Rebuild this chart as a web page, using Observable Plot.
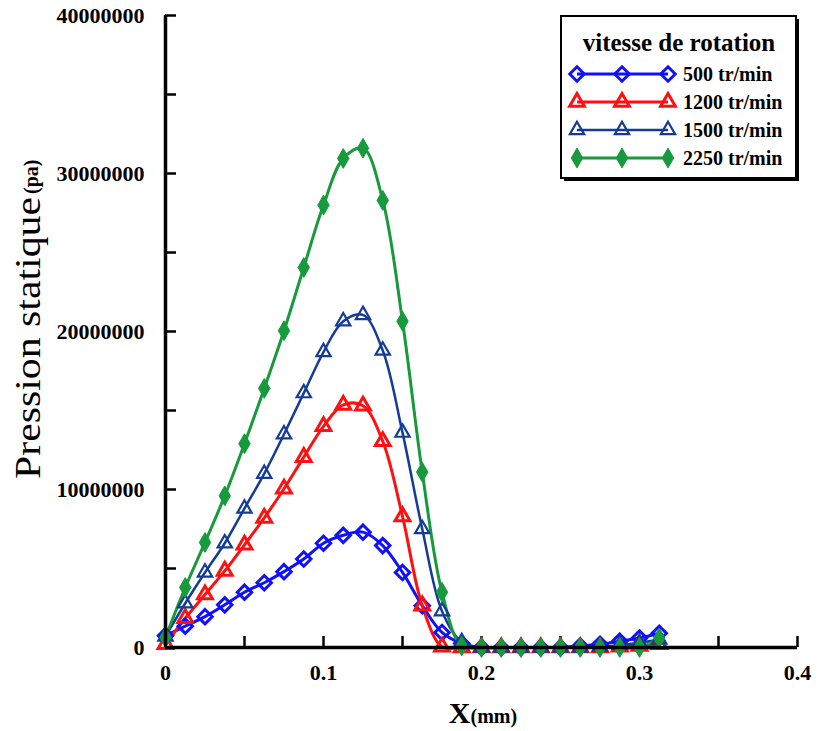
<!DOCTYPE html>
<html>
<head>
<meta charset="utf-8">
<script src="https://cdn.jsdelivr.net/npm/d3@7"></script>
<script src="https://cdn.jsdelivr.net/npm/@observablehq/plot@0.6"></script>
<style>
  body { margin: 0; background: #fff; }
  #chart { position: relative; width: 818px; height: 731px; }
</style>
</head>
<body>
<div id="chart"></div>
<script>
// X positions (mm)
const xs = [0, 0.0125, 0.025, 0.0375, 0.05, 0.0625, 0.075, 0.0875, 0.1, 0.1125, 0.125, 0.1375, 0.15,
            0.1625, 0.175, 0.1875, 0.2, 0.2125, 0.225, 0.2375, 0.25, 0.2625, 0.275, 0.2875, 0.3, 0.3125];

// Static pressure (Pa) for each rotation speed
const p500  = [750000, 1350000, 1950000, 2700000, 3500000, 4100000, 4800000, 5600000, 6600000, 7100000, 7300000, 6450000, 4750000,
               2650000, 950000, 250000, 0, 0, 0, 0, 0, 100000, 200000, 400000, 600000, 900000];
const p1200 = [200000, 1850000, 3350000, 4850000, 6500000, 8200000, 10050000, 12050000, 14000000, 15350000, 15300000, 13050000, 8300000,
               2650000, 50000, 0, 0, 0, 0, 0, 0, 0, 0, 50000, 100000, 200000];
const p1500 = [700000, 2800000, 4750000, 6600000, 8800000, 11000000, 13500000, 16100000, 18700000, 20650000, 21050000, 18800000, 13600000,
               7500000, 2300000, 350000, 0, 0, 0, 0, 0, 0, 50000, 150000, 300000, 500000];
const p2250 = [650000, 3800000, 6650000, 9600000, 12900000, 16400000, 20050000, 24050000, 28000000, 30950000, 31600000, 28300000, 20650000,
               11100000, 3500000, 100000, 0, 0, 0, 0, 0, 0, 0, 0, 0, 600000];

const seriesNames = ["500 tr/min", "1200 tr/min", "1500 tr/min", "2250 tr/min"];
const seriesValues = [p500, p1200, p1500, p2250];

const yMajor = [0, 10000000, 20000000, 30000000, 40000000];
const yTicks = [0, 5000000, 10000000, 15000000, 20000000, 25000000, 30000000, 35000000, 40000000];
const xMajor = [0, 0.1, 0.2, 0.3, 0.4];
const xTicks = [0, 0.05, 0.1, 0.15, 0.2, 0.25, 0.3, 0.35, 0.4];

const legendTitle = "vitesse de rotation";
const xLabel = ["X", "(mm)"];
const yLabel = ["Pression statique", "(pa)"];

// styles
const styles = [
  {color: "#1010ff", symbol: "diamond2", r: 6.5, fill: "none", sw: 3, lw: 3},
  {color: "#ff1010", symbol: "triangle", r: 5.5, fill: "none", sw: 3, lw: 3},
  {color: "#143c96", symbol: "triangle", r: 5.3, fill: "none", sw: 2.2, lw: 2.5},
  {color: "#179a3c", symbol: "diamond", r: 6, fill: "#179a3c", sw: 1, lw: 3}
];

const tables = seriesValues.map((vals, k) => xs.map((x, i) => ({x, y: vals[i], s: seriesNames[k]})));

const marks = [];
tables.forEach((t, k) => {
  const st = styles[k];
  marks.push(Plot.line(t, {x: "x", y: "y", stroke: st.color, strokeWidth: st.lw, curve: "catmull-rom"}));
});
tables.forEach((t, k) => {
  const st = styles[k];
  marks.push(Plot.dot(t, {x: "x", y: "y", symbol: st.symbol, r: st.r, stroke: st.color, fill: st.fill, strokeWidth: st.sw}));
});

const font = "'Liberation Serif', 'Times New Roman', serif";

const plot = Plot.plot({
  width: 818,
  height: 731,
  marginLeft: 165,
  marginRight: 21,
  marginTop: 15,
  marginBottom: 84,
  style: {fontFamily: font, fontSize: "22px", fontWeight: "bold", color: "#000", background: "#fff"},
  x: {domain: [0, 0.4], axis: null},
  y: {domain: [0, 40000000], axis: null},
  marks: [
    Plot.axisY({ticks: yTicks, tickSize: -11, strokeWidth: 2.5, tickFormat: () => "", label: null}),
    Plot.axisY({ticks: yMajor, tickSize: 0, tickPadding: 21, tickFormat: d => d3.format("d")(d), label: null}),
    Plot.axisX({ticks: xTicks, tickSize: -11, strokeWidth: 2.5, tickFormat: () => "", label: null}),
    Plot.axisX({ticks: xMajor, tickSize: 0, tickPadding: 17, tickFormat: d => d === 0 ? "0" : String(d), label: null}),
    ...marks,
    Plot.ruleX([0], {strokeWidth: 3.5}),
    Plot.ruleY([0], {strokeWidth: 3.5})
  ]
});

document.getElementById("chart").appendChild(plot);

const svg = d3.select(plot);

// X axis label
const xt = svg.append("text")
  .attr("x", 483).attr("y", 723)
  .attr("text-anchor", "middle")
  .attr("font-family", font).attr("font-weight", "bold").attr("fill", "#000");
xt.append("tspan").attr("font-size", 30).text(xLabel[0]);
xt.append("tspan").attr("font-size", 20).text(xLabel[1]);

// Y axis label
const yg = svg.append("g").attr("transform", "translate(40,0) rotate(-90)");
yg.append("text")
  .attr("x", -479).attr("y", 0)
  .attr("text-anchor", "start")
  .attr("font-family", font).attr("font-size", 36).attr("font-weight", "normal").attr("fill", "#000")
  .attr("textLength", 282).attr("lengthAdjust", "spacingAndGlyphs")
  .text(yLabel[0]);
yg.append("text")
  .attr("x", -194).attr("y", -2)
  .attr("text-anchor", "start")
  .attr("font-family", font).attr("font-size", 20).attr("font-weight", "bold").attr("fill", "#000")
  .text(yLabel[1]);

// Legend
const lg = svg.append("g");
const bx = 561, by = 16, bw = 235, bh = 162;
lg.append("rect").attr("x", bx + 3).attr("y", by + 3).attr("width", bw).attr("height", bh).attr("fill", "#000");
lg.append("rect").attr("x", bx).attr("y", by).attr("width", bw).attr("height", bh)
  .attr("fill", "#fff").attr("stroke", "#000").attr("stroke-width", 2);
lg.append("text").attr("x", bx + 118).attr("y", by + 35)
  .attr("text-anchor", "middle").attr("font-family", font).attr("font-size", 25).attr("font-weight", "bold")
  .text(legendTitle);
const d3sym = {diamond: d3.symbolDiamond, diamond2: d3.symbolDiamond2, triangle: d3.symbolTriangle};
seriesNames.forEach((name, k) => {
  const st = styles[k];
  const cy = by + 58 + k * 28;
  lg.append("line").attr("x1", bx + 16).attr("x2", bx + 107).attr("y1", cy).attr("y2", cy)
    .attr("stroke", st.color).attr("stroke-width", st.lw);
  const path = d3.symbol(d3sym[st.symbol], Math.PI * st.r * st.r)();
  [bx + 16, bx + 61, bx + 107].forEach(px => {
    lg.append("path").attr("d", path).attr("transform", `translate(${px},${cy})`)
      .attr("fill", st.fill).attr("stroke", st.color).attr("stroke-width", st.sw);
  });
  lg.append("text").attr("x", bx + 122).attr("y", cy + 7)
    .attr("text-anchor", "start")
    .attr("font-family", font).attr("font-size", 20).attr("font-weight", "bold")
    .text(name);
});
</script>
</body>
</html>
